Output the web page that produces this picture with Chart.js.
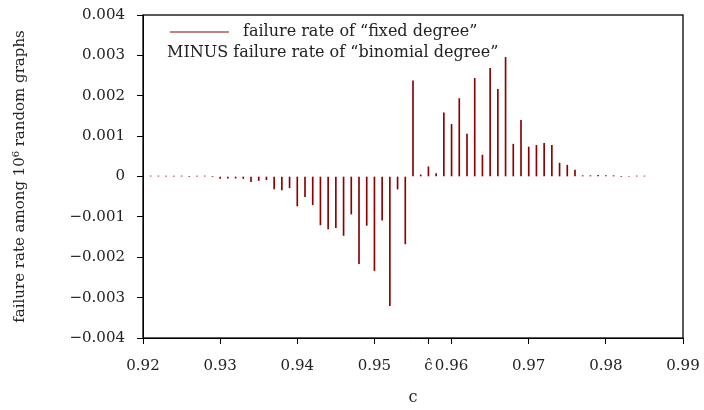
<!DOCTYPE html>
<html>
<head>
<meta charset="utf-8">
<script src="https://cdn.jsdelivr.net/npm/chart.js@4.4.1/dist/chart.umd.min.js"></script>
<style>
  html, body { margin: 0; padding: 0; background: #fff; }
  #wrap { width: 704px; height: 410px; }
</style>
</head>
<body>
<div id="wrap"><canvas id="myChart"></canvas></div>
<script>
// valores de c (paso 0.001) y diferencia de tasas de fallo
const cValues = [
  0.921, 0.922, 0.923, 0.924, 0.925, 0.926, 0.927, 0.928, 0.929, 0.930,
  0.931, 0.932, 0.933, 0.934, 0.935, 0.936, 0.937, 0.938, 0.939, 0.940,
  0.941, 0.942, 0.943, 0.944, 0.945, 0.946, 0.947, 0.948, 0.949, 0.950,
  0.951, 0.952, 0.953, 0.954, 0.955, 0.956, 0.957, 0.958, 0.959, 0.960,
  0.961, 0.962, 0.963, 0.964, 0.965, 0.966, 0.967, 0.968, 0.969, 0.970,
  0.971, 0.972, 0.973, 0.974, 0.975, 0.976, 0.977, 0.978, 0.979, 0.980,
  0.981, 0.982, 0.983, 0.984, 0.985
];
const diffValues = [
  0.00001, 0.00001, 0.00001, 0.00001, 0.00001, 0, 0.00001, 0.00001, 0, -0.00005,
  -0.00004, -0.00004, -0.00005, -0.00013, -0.00010, -0.00008, -0.00031, -0.00033, -0.00028, -0.00073,
  -0.00050, -0.00070, -0.00120, -0.00130, -0.00127, -0.00146, -0.00093, -0.00216, -0.00121, -0.00233,
  -0.00108, -0.00320, -0.00031, -0.00167, 0.00237, 0.00004, 0.00024, 0.00007, 0.00158, 0.00129,
  0.00193, 0.00105, 0.00243, 0.00053, 0.00268, 0.00216, 0.00295, 0.00080, 0.00139, 0.00073,
  0.00077, 0.00082, 0.00077, 0.00033, 0.00028, 0.00016, 0.00002, 0.00002, 0.00003, 0.00002,
  0.00002, 0, 0, 0.00001, 0.00001
];
const xTicks = [0.92, 0.93, 0.94, 0.95, 0.96, 0.97, 0.98, 0.99];
const yTicks = [-0.004, -0.003, -0.002, -0.001, 0, 0.001, 0.002, 0.003, 0.004];
const cHat = 0.957; // umbral marcado en el eje x
const legendLines = ['failure rate of \u201cfixed degree\u201d', 'MINUS failure rate of \u201cbinomial degree\u201d'];

const barColor = '#8b0000';
const serif = 'DejaVu Serif';

// leyenda en dos líneas dentro del área del gráfico + marco completo
const frameAndLegend = {
  id: 'frameAndLegend',
  afterDraw(chart) {
    const { ctx, chartArea: a } = chart;
    ctx.save();
    ctx.strokeStyle = '#000';
    ctx.lineWidth = 1.3;
    ctx.strokeRect(a.left, a.top, a.right - a.left, a.bottom - a.top);

    ctx.strokeStyle = barColor;
    ctx.lineWidth = 1;
    ctx.beginPath();
    ctx.moveTo(a.left + 27, a.top + 17);
    ctx.lineTo(a.left + 86, a.top + 17);
    ctx.stroke();

    ctx.fillStyle = '#222';
    ctx.font = '16px "' + serif + '"';
    ctx.textBaseline = 'middle';
    ctx.fillText(legendLines[0], a.left + 100, a.top + 17);
    ctx.fillText(legendLines[1], a.left + 24, a.top + 38);
    ctx.restore();
  }
};

const points = cValues.map((c, i) => ({ x: c, y: diffValues[i] }));

new Chart(document.getElementById('myChart'), {
  type: 'bar',
  data: {
    datasets: [{
      label: legendLines.join(' '),
      data: points,
      backgroundColor: barColor,
      borderWidth: 0,
      barThickness: 1
    }]
  },
  options: {
    responsive: true,
    maintainAspectRatio: false,
    animation: false,
    devicePixelRatio: 1,
    layout: { padding: { top: 15, right: 21, left: 0, bottom: 0 } },
    plugins: { legend: { display: false }, tooltip: { enabled: false } },
    scales: {
      x: {
        type: 'linear',
        offset: false,
        min: 0.92,
        max: 0.99,
        afterBuildTicks(scale) {
          const t = xTicks.map(v => ({ value: v }));
          t.push({ value: cHat });
          t.sort((p, q) => p.value - q.value);
          scale.ticks = t;
        },
        // tamaño fijo, sin margen extra por las etiquetas de los extremos
        afterFit(scale) {
          scale.height = 72;
          scale.paddingLeft = 0;
          scale.paddingRight = 0;
        },
        grid: { display: true, offset: false, drawOnChartArea: false, drawTicks: true, tickLength: 6, color: '#000', lineWidth: 1 },
        border: { display: true, color: '#000', width: 1 },
        ticks: {
          autoSkip: false,
          maxRotation: 0,
          padding: 13,
          color: '#222',
          font: { family: serif, size: 15 },
          callback: v => (v === cHat ? '\u0109' : v.toFixed(2))
        },
        title: {
          display: true,
          text: 'c',
          color: '#222',
          font: { family: serif, size: 16 },
          padding: { top: 3, bottom: 3 }
        }
      },
      y: {
        min: -0.004,
        max: 0.004,
        afterBuildTicks(scale) { scale.ticks = yTicks.map(v => ({ value: v })); },
        afterFit(scale) {
          scale.width = 143;
          scale.paddingTop = 0;
          scale.paddingBottom = 0;
        },
        grid: { display: true, drawOnChartArea: false, drawTicks: true, tickLength: 6, color: '#000', lineWidth: 1 },
        border: { display: true, color: '#000', width: 1 },
        ticks: {
          padding: 12,
          color: '#222',
          font: { family: serif, size: 15 },
          callback: v => (v === 0 ? '0' : (v < 0 ? '\u2212' : '') + Math.abs(v).toFixed(3))
        },
        title: {
          display: true,
          text: 'failure rate among 10\u2076 random graphs',
          color: '#222',
          font: { family: serif, size: 15 },
          padding: { top: 11, bottom: 0 }
        }
      }
    }
  },
  plugins: [frameAndLegend]
});
</script>
</body>
</html>
